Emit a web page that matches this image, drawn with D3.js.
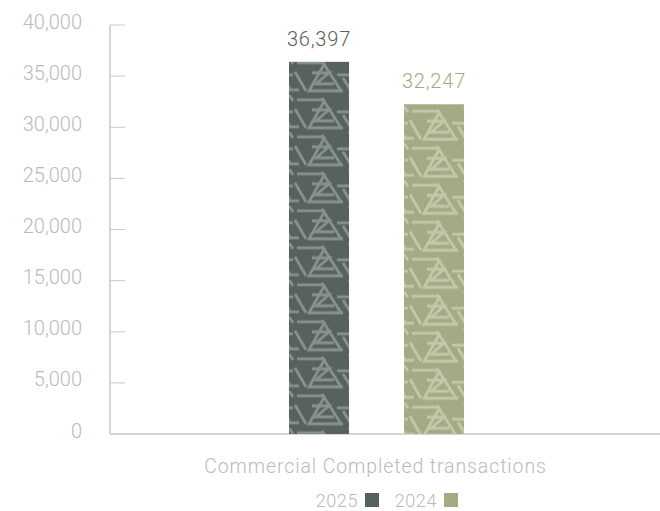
<!DOCTYPE html>
<html>
<head>
<meta charset="utf-8">
<script src="https://cdn.jsdelivr.net/npm/d3@7"></script>
<style>
  html, body { margin: 0; padding: 0; background: #fff; }
  svg { display: block; font-family: Roboto, "DejaVu Sans", sans-serif; font-weight: 300; }
</style>
</head>
<body>
<svg id="chart" width="660" height="511"></svg>
<script>
// Chart data
const categories = ["Commercial Completed transactions"];
const seriesNames = ["2025", "2024"];
const values2025 = [36397];
const values2024 = [32247];
const yTicks = [0, 5000, 10000, 15000, 20000, 25000, 30000, 35000, 40000];

const seriesValues = { "2025": values2025, "2024": values2024 };
const fills = { "2025": "#56625b", "2024": "#a3aa84" };
const motifs = { "2025": "#86938c", "2024": "#c4c8aa" };
const labelColors = { "2025": "#56615a", "2024": "#a3a984" };
const axisGrey = "#c8c8c8";
const textGrey = "#bababa";

const svg = d3.select("#chart");
const defs = svg.append("defs");

// Scales
const x0 = d3.scaleBand().domain(categories).range([110, 643]);
const y = d3.scaleLinear().domain([0, 40000]).range([434, 25]);

// Patterned fill: triangle with an inner zig-zag, repeated in a 60 x 37 tile
function makePattern(id, s, px, py) {
  const p = defs.append("pattern")
    .attr("id", id)
    .attr("patternUnits", "userSpaceOnUse")
    .attr("x", px).attr("y", py)
    .attr("width", 60).attr("height", 37);
  p.append("rect").attr("width", 60).attr("height", 37).attr("fill", fills[s]);
  const g = p.append("g")
    .attr("fill", "none")
    .attr("stroke", motifs[s])
    .attr("stroke-width", 2.8)
    .attr("stroke-linecap", "butt")
    .attr("stroke-linejoin", "miter");
  g.append("path").attr("d", "M8,5 L33,5");
  g.append("path").attr("d", "M33,3 L52,33");
  g.append("path").attr("d", "M36,5 L20,33 L54,33");
  g.append("path").attr("d", "M6,14 L17,33");
  g.append("path").attr("d", "M23,15 L40,15 L27,26 L45,26");
  g.append("path").attr("d", "M48,17 L62,17");
  g.append("path").attr("d", "M-2,17 L4,17");
  g.append("path").attr("d", "M0,32 L10,32");
  g.append("path").attr("d", "M60,32 L70,32");
  g.append("path").attr("d", "M54,20 L62,33");
  g.append("path").attr("d", "M-6,20 L2,33");
  g.append("path").attr("d", "M0,0 L4,6");
  g.append("path").attr("d", "M60,0 L64,6");
}

// Y axis with ticks pointing into the plot
const yAxis = svg.append("g");
yAxis.append("line")
  .attr("x1", 110).attr("x2", 110)
  .attr("y1", y(40000)).attr("y2", y(0))
  .attr("stroke", axisGrey).attr("stroke-width", 1.5);
yAxis.selectAll("line.tick").data(yTicks.filter(d => d > 0)).join("line")
  .attr("class", "tick")
  .attr("x1", 110).attr("x2", 125)
  .attr("y1", d => y(d)).attr("y2", d => y(d))
  .attr("stroke", axisGrey).attr("stroke-width", 1);
yAxis.selectAll("text").data(yTicks).join("text")
  .attr("x", 82).attr("y", d => y(d) + 3.5)
  .attr("text-anchor", "end")
  .attr("font-size", 20)
  .attr("fill", textGrey)
  .text(d => d3.format(",")(d));

// X axis baseline
svg.append("line")
  .attr("x1", 110).attr("x2", 660)
  .attr("y1", y(0)).attr("y2", y(0))
  .attr("stroke", axisGrey).attr("stroke-width", 1.5);

// Bars with value labels
categories.forEach((cat, ci) => {
  const c = x0(cat) + x0.bandwidth() / 2;
  const x1 = d3.scaleBand().domain(seriesNames)
    .range([c - 115, c + 115]).paddingInner(0.478).paddingOuter(0.239);
  const g = svg.append("g");
  seriesNames.forEach((s, si) => {
    const v = seriesValues[s][ci];
    const id = `pat${s}_${ci}`;
    makePattern(id, s, x1(s), y(v) - 4 + si * 6);
    g.append("rect")
      .attr("x", x1(s)).attr("width", x1.bandwidth())
      .attr("y", y(v)).attr("height", y(0) - y(v))
      .attr("fill", `url(#${id})`);
    g.append("text")
      .attr("x", x1(s) + x1.bandwidth() / 2)
      .attr("y", y(v) - 16)
      .attr("text-anchor", "middle")
      .attr("font-size", 20)
      .attr("letter-spacing", 0.8)
      .attr("fill", labelColors[s])
      .text(d3.format(",")(v));
  });
  svg.append("text")
    .attr("x", c - 1).attr("y", 473)
    .attr("text-anchor", "middle")
    .attr("font-size", 19.5)
    .attr("letter-spacing", 0.9)
    .attr("fill", textGrey)
    .text(cat);
});

// Legend
const legend = svg.append("g");
const legendItems = [
  { name: "2025", tx: 358, sx: 365 },
  { name: "2024", tx: 437, sx: 444 }
];
legendItems.forEach(d => {
  legend.append("text")
    .attr("x", d.tx).attr("y", 507)
    .attr("text-anchor", "end")
    .attr("font-size", 18)
    .attr("letter-spacing", 0.6)
    .attr("fill", textGrey)
    .text(d.name);
  legend.append("rect")
    .attr("x", d.sx).attr("y", 493)
    .attr("width", 14).attr("height", 14)
    .attr("fill", fills[d.name]);
});
</script>
</body>
</html>
